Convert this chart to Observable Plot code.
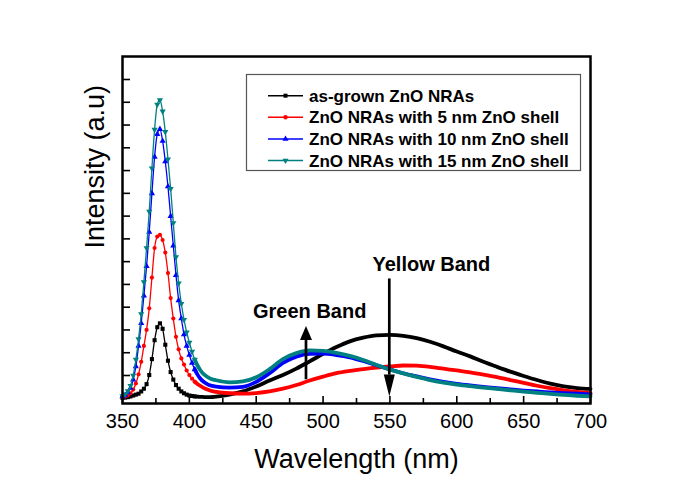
<!DOCTYPE html>
<html>
<head>
<meta charset="utf-8">
<script src="https://cdn.jsdelivr.net/npm/d3@7"></script>
<script src="https://cdn.jsdelivr.net/npm/@observablehq/plot@0.6"></script>
<style>
  html, body { margin: 0; padding: 0; background: #fff; }
</style>
</head>
<body>
<div id="chart"></div>
<script>
// ---------- data ----------
const wavelength = [
  350,352,354,356,358,360,362,364,366,368,370,372,374,376,378,380,382,384,
  386,388,390,392,394,396,398,400,402,404,406,408,410,412,414,416,418,420,
  430,440,450,460,470,480,490,500,510,520,530,540,550,560,570,580,590,600,
  610,620,630,640,650,660,670,680,690,700
];
const asGrown = [
  0.02,0.03,0.05,0.08,0.12,0.16,0.20,0.30,0.42,0.62,1.02,1.72,2.55,3.12,3.29,3.05,2.35,1.65,
  1.15,0.82,0.58,0.42,0.30,0.22,0.16,0.12,0.10,0.08,0.07,0.06,0.06,0.05,0.05,0.05,0.06,0.07,
  0.16,0.30,0.52,0.78,1.02,1.30,1.62,1.95,2.25,2.50,2.66,2.76,2.78,2.74,2.64,2.48,2.28,2.05,
  1.84,1.60,1.38,1.17,0.98,0.80,0.64,0.52,0.45,0.41
];
const shell5 = [
  0.05,0.08,0.13,0.22,0.38,0.65,1.05,1.60,2.30,3.00,3.95,5.30,6.60,7.10,7.18,6.95,6.40,5.50,
  4.40,3.50,2.70,2.15,1.75,1.48,1.22,1.02,0.86,0.73,0.63,0.55,0.48,0.42,0.37,0.33,0.30,0.28,
  0.22,0.20,0.23,0.30,0.42,0.58,0.78,0.95,1.10,1.20,1.28,1.35,1.40,1.44,1.43,1.38,1.30,1.22,
  1.14,1.04,0.93,0.80,0.68,0.55,0.44,0.35,0.28,0.22
];
const shell10 = [
  0.08,0.14,0.25,0.45,0.82,1.40,2.30,3.30,4.50,5.80,7.30,9.00,10.6,11.6,11.82,11.3,10.4,9.30,
  8.00,6.70,5.40,4.30,3.50,2.80,2.30,1.90,1.55,1.27,1.05,0.88,0.76,0.67,0.60,0.56,0.53,0.51,
  0.47,0.50,0.72,1.10,1.55,1.83,1.95,1.96,1.90,1.80,1.64,1.45,1.27,1.10,0.96,0.83,0.72,0.63,
  0.56,0.50,0.44,0.39,0.34,0.30,0.26,0.23,0.20,0.17
];
const shell15 = [
  0.10,0.18,0.32,0.55,1.00,1.70,2.60,3.70,5.10,6.60,8.20,10.1,11.8,12.9,13.1,12.6,11.7,10.5,
  9.20,7.70,6.20,5.05,4.15,3.45,2.90,2.45,2.05,1.70,1.45,1.25,1.10,1.00,0.92,0.86,0.82,0.79,
  0.70,0.74,0.92,1.28,1.72,1.98,2.10,2.08,1.99,1.86,1.68,1.46,1.26,1.09,0.94,0.80,0.69,0.60,
  0.53,0.47,0.41,0.35,0.29,0.24,0.19,0.15,0.11,0.08
];

const seriesNames = [
  "as-grown ZnO NRAs",
  "ZnO NRAs with 5 nm ZnO shell",
  "ZnO NRAs with 10 nm ZnO shell",
  "ZnO NRAs with 15 nm ZnO shell"
];
const seriesValues = [asGrown, shell5, shell10, shell15];
const seriesColors = ["#000000", "#ff0000", "#0000ff", "#008080"];
const seriesSymbols = ["square", "circle", "triangle", "triangle"];
const seriesRotate = [0, 0, 0, 180];

const xMajorTicks = [350, 400, 450, 500, 550, 600, 650, 700];
const xMinorTicks = [375, 425, 475, 525, 575, 625, 675];
const yTicks = [1,2,3,4,5,6,7,8,9,10,11,12,13,14];

const bandLabels = ["Green Band", "Yellow Band"];
const bandLabelX = [490, 581];
const bandLabelY = [3.53, 5.61];
const arrowX = [487.6, 549.9];
const arrowFrom = [0.81, 5.24];
const arrowTo = [3.15, 0.05];
const arrowHeadLength = [14, 22];
const arrowHeadWidth = [12, 11];

const xLabel = "Wavelength (nm)";
const yLabel = "Intensity (a.u)";

// ---------- build ----------
const FONT = "'Liberation Sans', Arial, Helvetica, sans-serif";
const rows = [];
seriesValues.forEach((vals, s) => wavelength.forEach((w, i) =>
  rows.push({series: s, wavelength: w, intensity: vals[i]})));

const seriesMarks = [];
seriesValues.forEach((vals, s) => {
  const all = rows.filter(d => d.series === s);
  seriesMarks.push(Plot.line(all, {x: "wavelength", y: "intensity", stroke: seriesColors[s], strokeWidth: 1.3, curve: "monotone-x"}));
  seriesMarks.push(Plot.line(all.filter(d => d.wavelength >= 404), {x: "wavelength", y: "intensity", stroke: seriesColors[s], strokeWidth: 3.8, curve: "monotone-x"}));
  seriesMarks.push(Plot.dot(all.filter(d => d.wavelength <= 404), {x: "wavelength", y: "intensity", symbol: seriesSymbols[s], r: s === 1 ? 2.1 : 2.3, fill: seriesColors[s], stroke: "none", rotate: seriesRotate[s]}));
});

const bandRows = bandLabels.map((t, i) => ({text: t, x: bandLabelX[i], y: bandLabelY[i]}));

const plot = Plot.plot({
  width: 685,
  height: 484,
  marginLeft: 122,
  marginRight: 95,
  marginTop: 56,
  marginBottom: 81,
  style: {fontFamily: FONT, fontSize: "20px", background: "white", color: "black"},
  x: {domain: [350, 700]},
  y: {domain: [-0.23, 15.01]},
  marks: [
    Plot.axisX({ticks: xMajorTicks, tickSize: -7, tickPadding: 17, fontSize: 20, tickFormat: d => String(d), label: null, strokeWidth: 1.6}),
    Plot.axisX({ticks: xMinorTicks, tickSize: -5, tickFormat: () => "", label: null, strokeWidth: 1.6}),
    Plot.axisY({ticks: yTicks, tickSize: -8, tickFormat: () => "", label: null, strokeWidth: 1.6}),
    ...seriesMarks,
    Plot.text(bandRows, {x: "x", y: "y", text: "text", fontSize: 20, fontWeight: "bold", lineAnchor: "bottom", fill: "black"}),
    Plot.text([xLabel], {text: d => d, frameAnchor: "bottom", dy: 64.6, fontSize: 27, lineAnchor: "bottom", fill: "black"}),
    Plot.text([yLabel], {text: d => d, frameAnchor: "left", rotate: -90, dx: -19, dy: 18.5, fontSize: 27, lineAnchor: "bottom", fill: "black"}),
    Plot.frame({stroke: "black", strokeWidth: 2.5})
  ]
});

document.getElementById("chart").appendChild(plot);

// ---------- annotations drawn with the plot's own scales ----------
const svg = d3.select(plot);
const sx = plot.scale("x"), sy = plot.scale("y");
arrowX.forEach((ax, i) => {
  const x = sx.apply(ax), y0 = sy.apply(arrowFrom[i]), y1 = sy.apply(arrowTo[i]);
  const dir = Math.sign(y1 - y0);
  const hb = y1 - dir * arrowHeadLength[i];
  svg.append("line").attr("x1", x).attr("x2", x).attr("y1", y0).attr("y2", hb)
    .attr("stroke", "black").attr("stroke-width", 2.7);
  svg.append("path")
    .attr("d", `M${x - arrowHeadWidth[i] / 2},${hb}L${x + arrowHeadWidth[i] / 2},${hb}L${x},${y1}Z`)
    .attr("fill", "black");
});

// ---------- legend ----------
const d3Symbols = {square: d3.symbolSquare, circle: d3.symbolCircle, triangle: d3.symbolTriangle};
const lg = svg.append("g").attr("font-family", FONT).attr("text-anchor", "start");
lg.append("rect").attr("x", 246.5).attr("y", 74.5).attr("width", 334).attr("height", 96)
  .attr("fill", "white").attr("stroke", "#555").attr("stroke-width", 1.2);
seriesNames.forEach((name, i) => {
  const yb = 101.7 + i * 21.6;
  const ym = yb - 6;
  lg.append("line").attr("x1", 268).attr("x2", 303).attr("y1", ym).attr("y2", ym)
    .attr("stroke", seriesColors[i]).attr("stroke-width", 1.5);
  lg.append("path").attr("d", d3.symbol(d3Symbols[seriesSymbols[i]], 16)())
    .attr("transform", `translate(285.5,${ym}) rotate(${seriesRotate[i]})`)
    .attr("fill", seriesColors[i]);
  lg.append("text").attr("x", 309).attr("y", yb).attr("font-size", 17).attr("font-weight", "bold")
    .attr("text-anchor", "start").attr("fill", "black").text(name);
});
</script>
</body>
</html>
